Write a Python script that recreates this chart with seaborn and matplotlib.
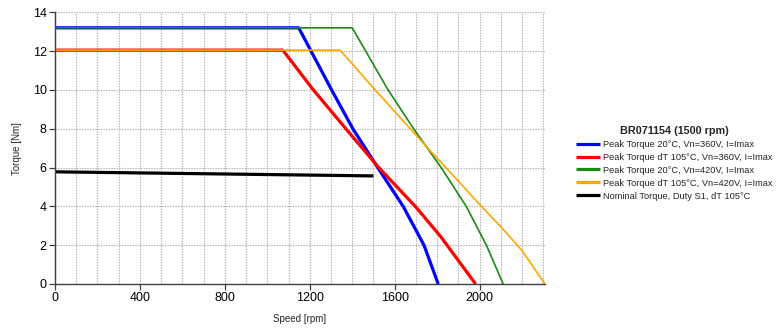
import matplotlib
matplotlib.use("Agg")
import matplotlib.pyplot as plt
import seaborn as sns
import pandas as pd
from matplotlib.ticker import MultipleLocator

# ---- data ----
blue_speed = [0, 1148, 1303, 1403, 1520, 1640, 1738, 1805]
blue_torque = [13.2, 13.2, 10.0, 8.0, 6.0, 4.0, 2.0, 0.0]

red_speed = [0, 1073, 1217, 1370, 1525, 1697, 1817, 1981]
red_torque = [12.05, 12.05, 10.0, 8.0, 6.0, 4.0, 2.44, 0.0]

green_speed = [0, 1400, 1569, 1689, 1819, 1937, 2032, 2111]
green_torque = [13.2, 13.2, 10.0, 8.0, 6.0, 4.0, 2.0, 0.0]

orange_speed = [0, 1343, 1500, 1771, 1900, 2000, 2100, 2200, 2308]
orange_torque = [12.05, 12.05, 10.1, 6.82, 5.3, 4.1, 2.95, 1.72, 0.0]

black_speed = [0, 1500]
black_torque = [5.78, 5.57]

labels = [
    "Peak Torque 20°C, Vn=360V, I=Imax",
    "Peak Torque dT 105°C, Vn=360V, I=Imax",
    "Peak Torque 20°C, Vn=420V, I=Imax",
    "Peak Torque dT 105°C, Vn=420V, I=Imax",
    "Nominal Torque, Duty S1, dT 105°C",
]
colors = ["#0000ff", "#ff0000", "#1a8a12", "#ffa500", "#000000"]
widths = [2.3, 2.3, 1.2, 1.2, 2.3]
legend_title = "BR071154 (1500 rpm)"
x_ticks = [0, 400, 800, 1200, 1600, 2000]
y_ticks = [0, 2, 4, 6, 8, 10, 12, 14]

series = [
    (blue_speed, blue_torque),
    (red_speed, red_torque),
    (green_speed, green_torque),
    (orange_speed, orange_torque),
    (black_speed, black_torque),
]

sns.set_theme(style="white")
plt.rcParams["font.family"] = ["Liberation Sans", "DejaVu Sans"]

fig = plt.figure(figsize=(7.79, 3.30), dpi=100)
ax = fig.add_axes([55 / 779, 1 - 284 / 330, 490 / 779, (284 - 12.3) / 330])

for (sx, sy), lab, c, w in zip(series, labels, colors, widths):
    df = pd.DataFrame({"Speed": sx, "Torque": sy})
    sns.lineplot(data=df, x="Speed", y="Torque", ax=ax, color=c, linewidth=w,
                 label=lab, sort=False, estimator=None, solid_capstyle="butt")

ax.set_xlim(0, 2308)
ax.set_ylim(0, 14)
ax.set_xticks(x_ticks)
ax.set_yticks(y_ticks)
ax.xaxis.set_minor_locator(MultipleLocator(100))
ax.grid(which="major", axis="both", color="#ababab", linestyle=(0, (1.2, 1.2)), linewidth=0.8)
ax.grid(which="minor", axis="x", color="#ababab", linestyle=(0, (1.2, 1.2)), linewidth=0.8)
ax.set_axisbelow(True)

for s in ["top", "right"]:
    ax.spines[s].set_visible(False)
for s in ["left", "bottom"]:
    ax.spines[s].set_color("#404040")
    ax.spines[s].set_linewidth(1.0)

ax.tick_params(axis="both", which="major", direction="out", length=4, width=0.9,
               color="#404040", labelsize=9, labelcolor="#000000", pad=2,
               left=True, bottom=True)
ax.tick_params(axis="x", which="minor", length=0)

ax.set_xlabel("Speed [rpm]", fontsize=7, labelpad=7)
ax.set_ylabel("Torque [Nm]", fontsize=7, labelpad=8)

handles, labs = ax.get_legend_handles_labels()
if ax.legend_:
    ax.legend_.remove()
leg = fig.legend(handles, labs, title=legend_title, loc="upper left",
                 bbox_to_anchor=(576 / 779, 1 - 126 / 330), frameon=False,
                 fontsize=6.7, title_fontproperties={"weight": "bold", "size": 7.8},
                 handlelength=2.6, handletextpad=0.25, labelspacing=0.42,
                 borderaxespad=0, borderpad=0)
for h in leg.legend_handles:
    h.set_linewidth(2.3)

fig.savefig("out.png", dpi=100)
